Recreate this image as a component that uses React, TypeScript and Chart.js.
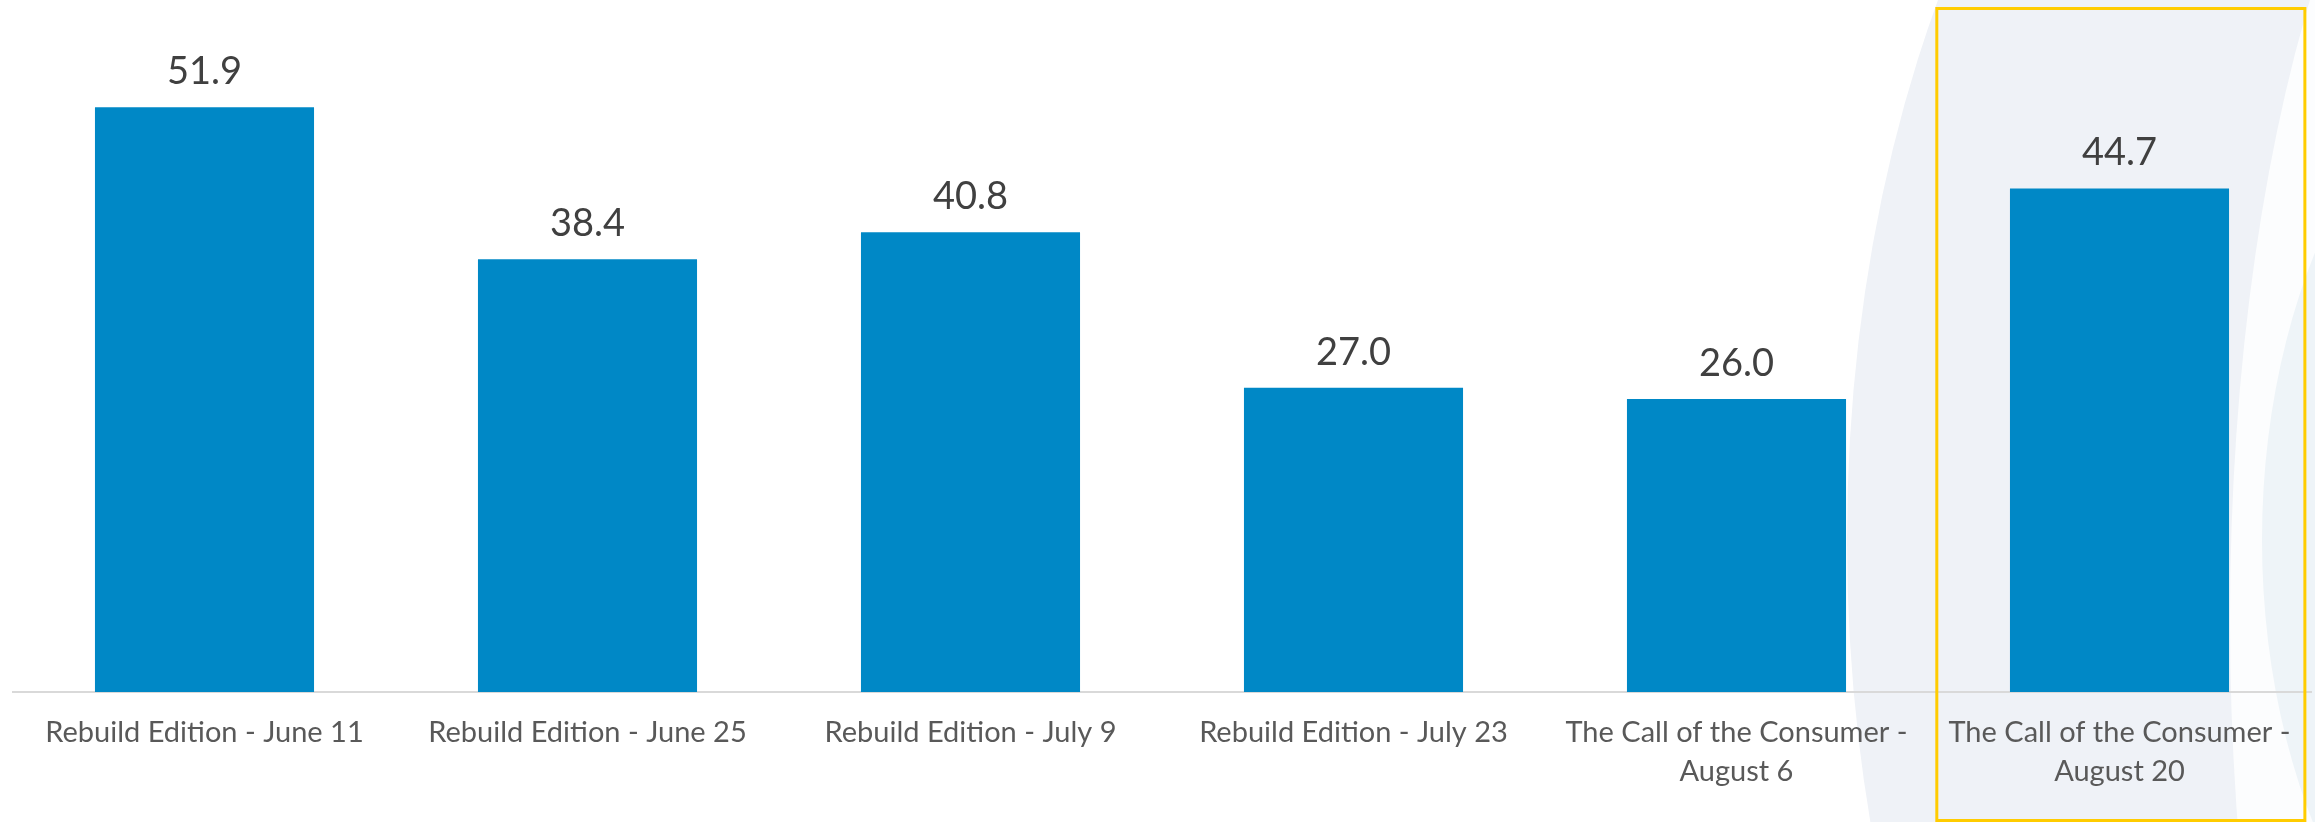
import React, { useEffect, useRef } from "react";
import { Chart, registerables } from "chart.js";

Chart.register(...registerables);

const categories: string[][] = [
  ["Rebuild Edition - June 11"],
  ["Rebuild Edition - June 25"],
  ["Rebuild Edition - July 9"],
  ["Rebuild Edition - July 23"],
  ["The Call of the Consumer -", "August 6"],
  ["The Call of the Consumer -", "August 20"],
];
const values: number[] = [51.9, 38.4, 40.8, 27.0, 26.0, 44.7];
const highlightIndex = 5;

const W = 2315;
const H = 822;

const backgroundPlugin = {
  id: "bgArt",
  beforeDraw(chart: any) {
    const ctx = chart.ctx;
    ctx.save();
    ctx.fillStyle = "#ffffff";
    ctx.fillRect(0, 0, W, H);
    ctx.fillStyle = "#EFF2F7";
    ctx.beginPath();
    ctx.ellipse(2447, 540, 600, 1020, 0, 0, Math.PI * 2);
    ctx.fill();
    ctx.fillStyle = "#FCFDFE";
    ctx.beginPath();
    ctx.ellipse(2560, 620, 330, 950, 0, 0, Math.PI * 2);
    ctx.fill();
    ctx.fillStyle = "#EEF4F8";
    ctx.beginPath();
    ctx.ellipse(2580, 540, 318, 520, 0, 0, Math.PI * 2);
    ctx.fill();
    ctx.restore();
  },
  beforeDatasetsDraw(chart: any) {
    const ctx = chart.ctx;
    const xs = chart.scales.x;
    const c = xs.getPixelForValue(highlightIndex);
    const band = xs.getPixelForValue(1) - xs.getPixelForValue(0);
    const left = c - band * 0.477;
    const right = c + band * 0.484;
    ctx.save();
    ctx.strokeStyle = "#FFCC00";
    ctx.lineWidth = 3;
    ctx.strokeRect(left, 8.5, right - left, 812);
    ctx.restore();
  },
};

const valueLabelPlugin = {
  id: "valueLabels",
  afterDatasetsDraw(chart: any) {
    const ctx = chart.ctx;
    const meta = chart.getDatasetMeta(0);
    ctx.save();
    ctx.font = "38px Lato";
    ctx.fillStyle = "#404040";
    ctx.textAlign = "center";
    ctx.textBaseline = "alphabetic";
    meta.data.forEach((bar: any, i: number) => {
      ctx.fillText(values[i].toFixed(1), bar.x, bar.y - 23);
    });
    ctx.restore();
  },
};

export default function App() {
  const ref = useRef<HTMLCanvasElement>(null);
  useEffect(() => {
    document.body.style.margin = "0";
    const canvas = ref.current!;
    const chart = new Chart(canvas, {
      type: "bar",
      data: {
        labels: categories,
        datasets: [
          {
            data: values,
            backgroundColor: "#0088C6",
            borderWidth: 0,
            barPercentage: 0.572,
            categoryPercentage: 1,
          },
        ],
      },
      options: {
        responsive: false,
        animation: false,
        layout: { padding: { left: 13, right: 4, top: 16, bottom: 0 } },
        plugins: {
          legend: { display: false },
          tooltip: { enabled: false },
        },
        scales: {
          x: {
            grid: { display: true, drawOnChartArea: false, drawTicks: false },
            border: { display: true, color: "#D9D9D9", width: 2 },
            ticks: {
              color: "#595959",
              font: { family: "Lato", size: 29, lineHeight: 1.35 },
              padding: 21,
              maxRotation: 0,
              autoSkip: false,
            },
            afterFit(scale: any) {
              scale.height = 130;
            },
          },
          y: {
            display: false,
            min: 0,
            max: 60,
          },
        },
      },
      plugins: [backgroundPlugin, valueLabelPlugin],
    });
    return () => chart.destroy();
  }, []);
  return (
    <canvas
      ref={ref}
      width={W}
      height={H}
      style={{ display: "block", width: W, height: H }}
    />
  );
}
